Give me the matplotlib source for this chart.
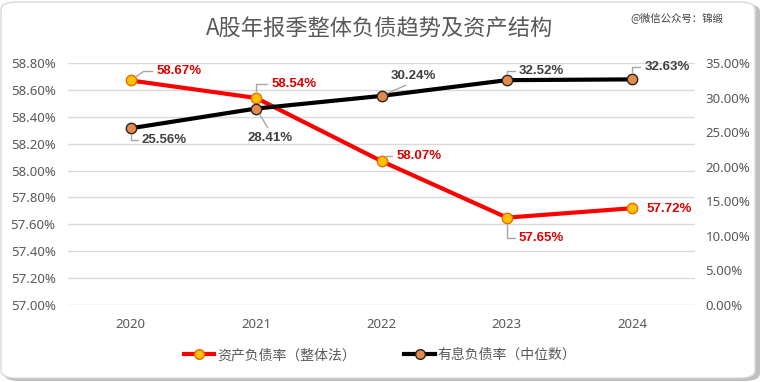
import matplotlib
matplotlib.use("Agg")
import matplotlib.pyplot as plt
from matplotlib.patches import FancyBboxPatch
from matplotlib.lines import Line2D
from matplotlib.ticker import FuncFormatter

plt.rcParams['font.family'] = ['Noto Sans CJK SC', 'DejaVu Sans']

years = ["2020", "2021", "2022", "2023", "2024"]
asset_liab = [58.67, 58.54, 58.07, 57.65, 57.72]      # 资产负债率（整体法） left axis
int_liab = [25.56, 28.41, 30.24, 32.52, 32.63]        # 有息负债率（中位数） right axis
left_ticks = [57.0, 57.2, 57.4, 57.6, 57.8, 58.0, 58.2, 58.4, 58.6, 58.8]
right_ticks = [0, 5, 10, 15, 20, 25, 30, 35]
title = "A股年报季整体负债趋势及资产结构"
legend_labels = ["资产负债率（整体法）", "有息负债率（中位数）"]
watermark = "@微信公众号：锦缎"

W, H = 762, 382
PT = 0.72  # pixels -> points
fig = plt.figure(figsize=(W / 100, H / 100), dpi=100)
fig.patch.set_facecolor("white")

# frame with shadow
shadow = FancyBboxPatch((4 / W, 1 / H), (W - 6) / W, (H - 5) / H,
                        boxstyle="round,pad=0,rounding_size=0.02",
                        transform=fig.transFigure, facecolor="#BFBFBF",
                        edgecolor="none", zorder=0)
fig.patches.append(shadow)
frame = FancyBboxPatch((1 / W, 4 / H), (W - 8) / W, (H - 6) / H,
                       boxstyle="round,pad=0,rounding_size=0.02",
                       transform=fig.transFigure, facecolor="white",
                       edgecolor="#D9D9D9", linewidth=1, zorder=1)
fig.patches.append(frame)

ax = fig.add_axes([68 / W, 77 / H, 627 / W, 242 / H])
ax.set_zorder(3)
ax.patch.set_alpha(0)
ax2 = ax.twinx()

x = list(range(len(years)))
red = "#FF0000"
ax.plot(x, asset_liab, color=red, lw=3, marker="o", ms=7.5,
        mfc="#FFC000", mec="#E46C0A", mew=1.0, zorder=5, solid_capstyle="round")
ax2.plot(x, int_liab, color="black", lw=3, marker="o", ms=7.5,
         mfc="#E6894A", mec="#262626", mew=1.0, zorder=5, solid_capstyle="round")

ax.set_xlim(-0.5, len(years) - 0.5)
ax.set_ylim(57.0, 58.8)
ax2.set_ylim(0, 35)
ax.set_yticks(left_ticks)
ax2.set_yticks(right_ticks)
ax.yaxis.set_major_formatter(FuncFormatter(lambda v, p: f"{v:.2f}%"))
ax2.yaxis.set_major_formatter(FuncFormatter(lambda v, p: f"{v:.2f}%"))
ax.set_xticks(x)
ax.set_xticklabels(years)
ax.grid(axis="y", color="#D9D9D9", lw=1)
ax.set_axisbelow(True)
for a in (ax, ax2):
    for s in a.spines.values():
        s.set_visible(False)
    a.tick_params(length=0, labelsize=9.5, labelcolor="#595959")
ax.tick_params(axis="y", pad=9)
ax2.tick_params(axis="y", pad=7.5)
ax.tick_params(axis="x", pad=9)
for lab in ax.get_yticklabels() + ax2.get_yticklabels() + ax.get_xticklabels():
    lab.set_family(["Noto Sans", "DejaVu Sans"])

lead = "#A6A6A6"
LBL = dict(fontsize=9.5, fontweight="bold", family=["Liberation Sans", "DejaVu Sans"], zorder=6,
           textcoords="offset points", va="center")

def ann(a, xi, yi, txt, color, dxpx, dypx, ha="left", conn=None, relpos=(0.5, 0.5)):
    kw = dict(LBL)
    if conn is not None:
        kw["arrowprops"] = dict(arrowstyle="-", color=lead, lw=1, shrinkA=1, shrinkB=5,
                                connectionstyle=conn, relpos=relpos)
    a.annotate(txt, xy=(xi, yi), xytext=(dxpx * PT, dypx * PT), ha=ha, color=color, **kw)

rc = "#E00000"
bc = "#404040"
# red series labels (offsets in pixels, y up)
ann(ax, 0, asset_liab[0], f"{asset_liab[0]:.2f}%", rc, 26, 9, conn="angle,angleA=0,angleB=35", relpos=(0, 0.5))
ann(ax, 1, asset_liab[1], f"{asset_liab[1]:.2f}%", rc, 15, 14, conn="angle,angleA=0,angleB=90", relpos=(0, 0.5))
ann(ax, 2, asset_liab[2], f"{asset_liab[2]:.2f}%", rc, 15, 5, conn="angle,angleA=0,angleB=90", relpos=(0, 0.5))
ann(ax, 3, asset_liab[3], f"{asset_liab[3]:.2f}%", rc, 12, -20, conn="angle,angleA=0,angleB=90", relpos=(0, 0.5))
ann(ax, 4, asset_liab[4], f"{asset_liab[4]:.2f}%", rc, 14, -1)
# black series labels
ann(ax2, 0, int_liab[0], f"{int_liab[0]:.2f}%", bc, 11, -12, conn="angle,angleA=0,angleB=90", relpos=(0, 0.5))
ann(ax2, 1, int_liab[1], f"{int_liab[1]:.2f}%", bc, 14, -29, ha="center", conn="arc3", relpos=(0.5, 1))
ann(ax2, 2, int_liab[2], f"{int_liab[2]:.2f}%", bc, 9, 20, conn="arc3", relpos=(0.5, 0))
ann(ax2, 3, int_liab[3], f"{int_liab[3]:.2f}%", bc, 12, 9, conn="angle,angleA=0,angleB=90", relpos=(0, 0.5))
ann(ax2, 4, int_liab[4], f"{int_liab[4]:.2f}%", bc, 12, 12, conn="angle,angleA=0,angleB=90", relpos=(0, 0.5))

fig.text(380 / W, 1 - 29 / H, title, ha="center", va="center",
         fontsize=16, color="#595959")
fig.text(723 / W, 1 - 18 / H, watermark, ha="right", va="center",
         fontsize=7.5, color="#404040")

handles = [
    Line2D([], [], color=red, lw=3, marker="o", ms=7, mfc="#FFC000", mec="#E46C0A"),
    Line2D([], [], color="black", lw=3, marker="o", ms=7, mfc="#E6894A", mec="#262626"),
]
fig.legend(handles, legend_labels, loc="center", bbox_to_anchor=(380 / W, 27 / H),
           ncol=2, frameon=False, fontsize=10, labelcolor="#595959",
           handlelength=2.2, handletextpad=0.2, columnspacing=3.5)

fig.savefig("out.png", dpi=100, facecolor="white")
